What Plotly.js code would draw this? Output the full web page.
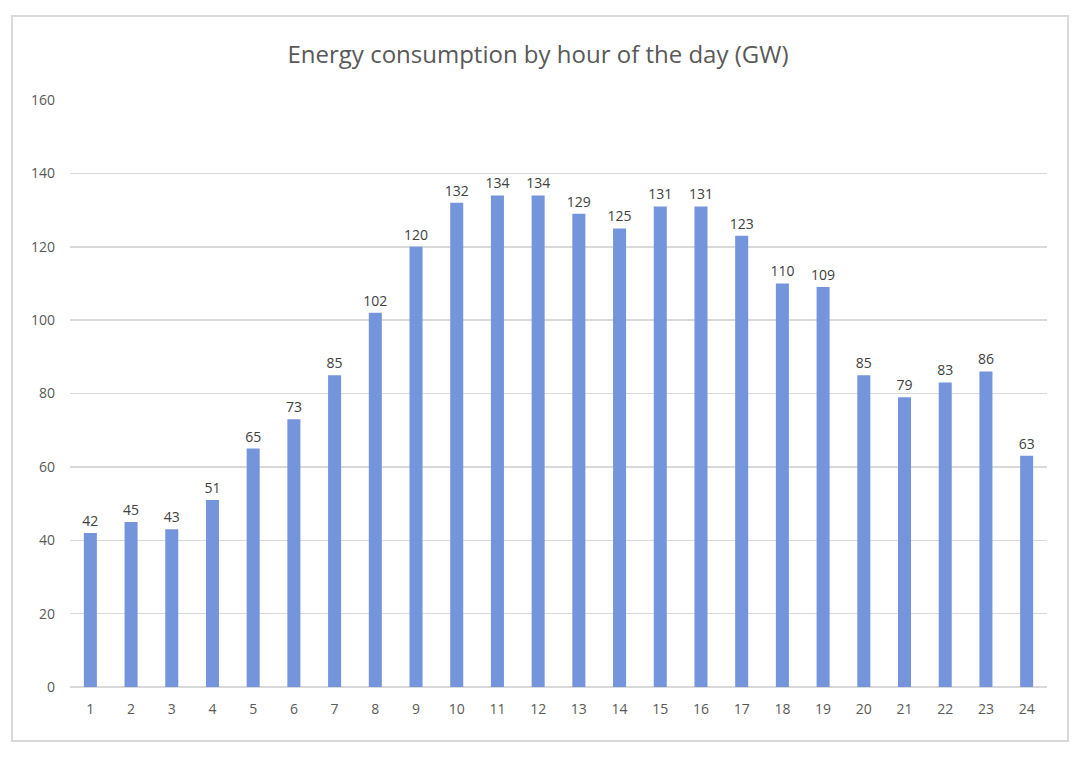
<!DOCTYPE html>
<html>
<head>
<meta charset="utf-8">
<script src="https://cdn.plot.ly/plotly-3.0.1.min.js"></script>
<style>
html,body{margin:0;padding:0;background:#fff;}
#chart{width:1076px;height:766px;}
</style>
</head>
<body>
<div id="chart"></div>
<script>
const hours = ["1","2","3","4","5","6","7","8","9","10","11","12","13","14","15","16","17","18","19","20","21","22","23","24"];
const consumption = [42,45,43,51,65,73,85,102,120,132,134,134,129,125,131,131,123,110,109,85,79,83,86,63];
const yTicks = [0,20,40,60,80,100,120,140,160];
const chartTitle = "Energy consumption by hour of the day (GW)";

const fontFam = "Open Sans, Noto Sans, sans-serif";

const trace = {
  type: "bar",
  x: hours,
  y: consumption,
  marker: {color: "#7494dc"},
  text: consumption.map(String),
  textposition: "outside",
  constraintext: "none",
  cliponaxis: false,
  textfont: {family: fontFam, size: 14, color: "#404040"},
  hoverinfo: "x+y"
};

const layout = {
  width: 1076,
  height: 766,
  margin: {l: 70, r: 29, t: 100, b: 79},
  paper_bgcolor: "#ffffff",
  plot_bgcolor: "#ffffff",
  bargap: 0.68,
  showlegend: false,
  title: {
    text: chartTitle,
    font: {family: fontFam, size: 24, color: "#595959"},
    x: 0.5, xanchor: "center",
    y: 1 - 55/766, yanchor: "middle"
  },
  xaxis: {
    type: "category",
    tickfont: {family: fontFam, size: 14, color: "#595959"},
    showgrid: false,
    showline: false,
    zeroline: false,
    ticks: "",
    ticklabelstandoff: 12
  },
  yaxis: {
    range: [0, 160],
    tickvals: yTicks,
    ticktext: yTicks.map(String),
    tickfont: {family: fontFam, size: 14, color: "#595959"},
    showgrid: true,
    gridcolor: "#d9d9d9",
    gridwidth: 1.5,
    zeroline: true,
    zerolinecolor: "#d9d9d9",
    zerolinewidth: 1.5,
    showline: false,
    ticks: "",
    ticklabelstandoff: 14
  },
  shapes: [{
    type: "rect",
    xref: "paper", yref: "paper",
    x0: (12 - 70) / 977, x1: (1068 - 70) / 977,
    y0: (687 - 741) / 587, y1: (687 - 16) / 587,
    line: {color: "#d9d9d9", width: 2},
    fillcolor: "rgba(0,0,0,0)",
    layer: "below"
  }]
};

Plotly.newPlot("chart", [trace], layout, {displayModeBar: false, staticPlot: true});
</script>
</body>
</html>
